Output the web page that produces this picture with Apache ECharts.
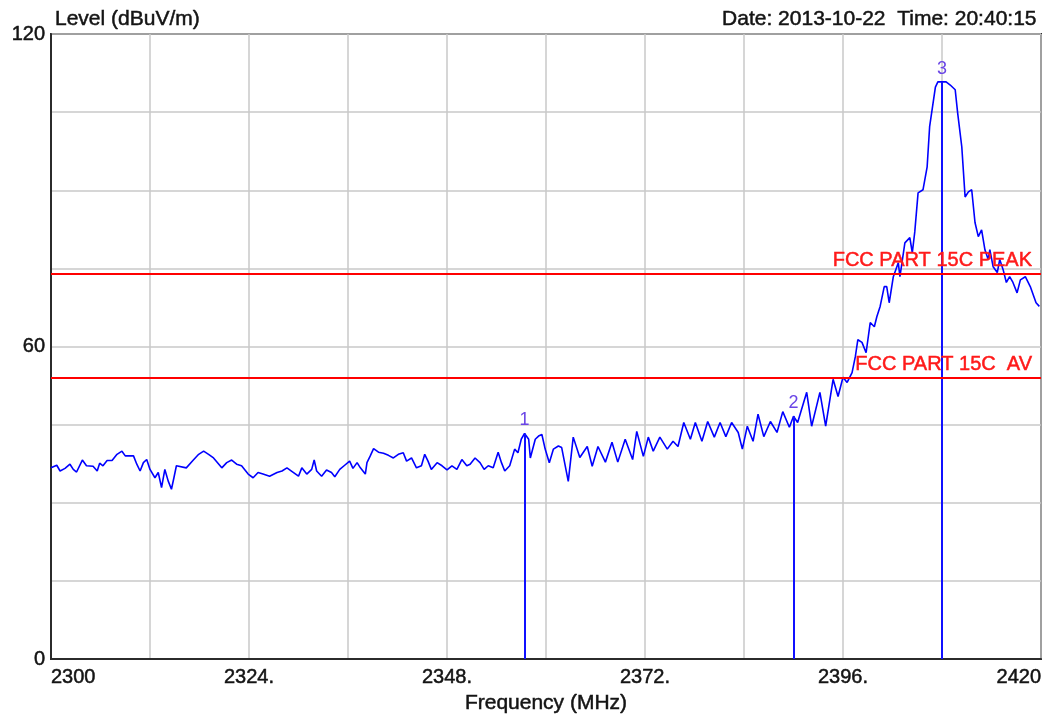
<!DOCTYPE html>
<html>
<head>
<meta charset="utf-8">
<title>Level (dBuV/m)</title>
<script src="https://cdn.jsdelivr.net/npm/echarts@6/dist/echarts.min.js"></script>
<style>
  html, body { margin: 0; padding: 0; background: #ffffff; }
  #chart { width: 1064px; height: 715px; }
</style>
</head>
<body>
<div id="chart"></div>
<script>
// Scan trace: frequency (MHz) and measured level (dBuV/m)
var freqMHz = [
  2300.0, 2300.7, 2301.1, 2301.7, 2302.3, 2302.7, 2303.1, 2303.8, 2304.3, 2305.1,
  2305.6, 2305.9, 2306.3, 2306.8, 2307.4, 2308.0, 2308.6, 2309.0, 2310.0, 2310.4,
  2310.8, 2311.2, 2311.6, 2312.0, 2312.6, 2313.0, 2313.4, 2313.8, 2314.2, 2314.6,
  2314.9, 2315.2, 2316.4, 2317.2, 2317.9, 2318.5, 2319.1, 2319.7, 2320.7, 2321.3,
  2321.9, 2322.5, 2323.1, 2323.9, 2324.5, 2325.1, 2325.7, 2326.5, 2327.4, 2328.0,
  2328.6, 2329.4, 2330.0, 2330.4, 2331.0, 2331.6, 2331.9, 2332.2, 2332.8, 2333.4,
  2334.0, 2334.4, 2335.0, 2335.6, 2336.2, 2336.6, 2337.1, 2337.5, 2338.1, 2338.3,
  2338.7, 2339.1, 2339.7, 2340.3, 2340.9, 2341.5, 2342.1, 2342.7, 2343.1, 2343.7,
  2344.3, 2344.9, 2345.3, 2345.7, 2346.1, 2346.8, 2347.4, 2348.0, 2348.6, 2349.2,
  2349.8, 2350.4, 2350.8, 2351.4, 2352.0, 2352.5, 2353.0, 2353.6, 2354.2, 2354.6,
  2355.0, 2355.6, 2356.2, 2356.6, 2357.0, 2357.4, 2357.9, 2358.1, 2358.7, 2359.1,
  2359.5, 2359.9, 2360.4, 2360.9, 2361.5, 2361.9, 2362.7, 2363.3, 2364.1, 2365.0,
  2365.6, 2366.3, 2367.2, 2368.0, 2368.7, 2369.6, 2370.5, 2371.0, 2371.8, 2372.4,
  2373.0, 2373.8, 2374.7, 2375.4, 2376.0, 2376.7, 2377.5, 2378.1, 2378.9, 2379.6,
  2380.4, 2381.1, 2381.8, 2382.5, 2383.3, 2383.8, 2384.4, 2385.1, 2385.7, 2386.4,
  2387.2, 2388.0, 2388.7, 2389.5, 2390.0, 2390.5, 2391.6, 2392.2, 2393.2, 2393.9,
  2394.8, 2395.4, 2396.0, 2396.5, 2397.1, 2397.5, 2397.8, 2398.3, 2398.8, 2399.3,
  2399.8, 2400.1, 2400.5, 2401.0, 2401.3, 2401.6, 2402.1, 2402.7, 2402.9, 2403.5,
  2404.1, 2404.4, 2404.7, 2405.1, 2405.7, 2406.2, 2406.5, 2407.2, 2407.5, 2408.0,
  2408.5, 2409.0, 2409.6, 2409.9, 2410.4, 2410.8, 2411.2, 2411.6, 2412.0, 2412.4,
  2412.8, 2413.2, 2413.6, 2413.8, 2414.2, 2414.7, 2415.0, 2415.4, 2415.8, 2416.2,
  2416.6, 2417.1, 2417.5, 2418.1, 2418.7, 2419.4, 2419.8
];
var levelDb = [
  36.7, 37.2, 36.1, 36.6, 37.4, 36.4, 35.9, 38.2, 37.1, 37.0,
  36.1, 37.6, 37.1, 38.1, 38.1, 39.3, 39.9, 39.0, 39.0, 37.4,
  36.1, 37.7, 38.3, 36.4, 34.8, 35.8, 32.9, 36.4, 34.2, 32.6,
  34.8, 37.1, 36.7, 38.1, 39.3, 39.9, 39.3, 38.6, 36.7, 37.7,
  38.2, 37.4, 37.1, 35.5, 34.8, 35.8, 35.5, 35.1, 35.8, 36.1,
  36.7, 35.8, 35.1, 36.7, 35.5, 36.4, 38.2, 36.1, 35.1, 36.3,
  35.8, 35.0, 36.4, 37.2, 38.0, 36.6, 37.7, 36.7, 35.5, 37.7,
  39.0, 40.4, 39.7, 39.5, 39.1, 38.6, 39.3, 39.6, 38.0, 38.6,
  36.7, 37.1, 39.3, 38.0, 36.4, 37.7, 37.1, 36.3, 37.1, 36.4,
  38.3, 37.1, 37.4, 38.6, 37.7, 36.4, 37.1, 36.7, 39.7, 37.7,
  36.1, 37.1, 40.3, 39.6, 42.2, 43.3, 42.2, 38.6, 42.2, 42.8,
  43.1, 40.3, 37.7, 40.3, 40.9, 40.6, 34.1, 42.6, 38.7, 40.8,
  37.0, 40.8, 37.8, 41.6, 37.8, 42.2, 38.3, 43.7, 38.9, 42.6,
  39.9, 42.6, 40.3, 41.8, 40.8, 45.4, 42.2, 45.4, 41.8, 45.6,
  42.6, 45.4, 42.7, 45.4, 43.5, 40.3, 44.7, 41.8, 47.0, 42.7,
  45.6, 43.5, 47.5, 44.5, 46.6, 45.4, 51.2, 44.7, 51.2, 44.7,
  53.7, 50.4, 54.1, 53.1, 55.0, 58.1, 61.3, 60.8, 58.8, 64.6,
  63.8, 65.7, 67.7, 71.5, 71.5, 68.4, 73.4, 76.1, 73.4, 79.9,
  80.9, 78.0, 82.0, 89.5, 90.1, 94.5, 102.2, 109.8, 110.8, 110.8,
  110.8, 110.2, 109.3, 104.8, 98.3, 88.7, 89.7, 90.1, 83.8, 81.1,
  82.4, 78.6, 76.7, 78.6, 75.3, 74.2, 76.7, 74.8, 72.3, 73.4,
  72.3, 70.3, 72.8, 73.4, 71.5, 68.4, 67.7
];

// Numbered markers
var markerNames = ['1', '2', '3'];
var markerFreq = [2357.4, 2390.0, 2408.0];
var markerLevel = [43.3, 46.6, 110.8];

// Limit lines
var limitNames = ['FCC PART 15C PEAK', 'FCC PART 15C  AV'];
var limitLevel = [74, 54];

// Axis tick labels
var xTickValues = [2300, 2324, 2348, 2372, 2396, 2420];
var xTickText = ['2300', '2324.', '2348.', '2372.', '2396.', '2420'];
var yTickValues = [0, 60, 120];
var yTickText = ['0', '60', '120'];

var FONT = '"Liberation Sans", Arial, sans-serif';
var TEXT = '#141414';

// slightly heavier text strokes
function heavy(color, size) {
  return {
    fontFamily: FONT, fontSize: size, fontWeight: 'normal', color: color,
    textBorderColor: color, textBorderWidth: 0.5
  };
}

var chart = echarts.init(document.getElementById('chart'), null, { renderer: 'canvas' });

var trace = freqMHz.map(function (f, i) { return [f, levelDb[i]]; });

var limitLines = limitLevel.map(function (v, i) {
  return { name: limitNames[i], yAxis: v };
});

var markerLines = markerFreq.map(function (f, i) {
  return [
    { name: markerNames[i], coord: [f, 0] },
    { coord: [f, markerLevel[i]] }
  ];
});

var xLabel = heavy(TEXT, 20);
xLabel.margin = 8;
xLabel.alignMinLabel = 'left';
xLabel.alignMaxLabel = 'right';
xLabel.showMinLabel = true;
xLabel.showMaxLabel = true;
xLabel.formatter = function (v) {
  var k = xTickValues.indexOf(Math.round(v));
  return k >= 0 ? xTickText[k] : '';
};

var yLabel = heavy(TEXT, 20);
yLabel.margin = 6;
yLabel.showMinLabel = true;
yLabel.showMaxLabel = true;
yLabel.formatter = function (v) {
  var k = yTickValues.indexOf(Math.round(v));
  return k >= 0 ? yTickText[k] : '';
};

var limitLabel = heavy('#ff1a1a', 20);
limitLabel.show = true;
limitLabel.position = 'insideEndTop';
limitLabel.distance = 3;
limitLabel.padding = [0, 6, 0, 0];
limitLabel.formatter = function (p) { return p.name; };

chart.setOption({
  animation: false,
  backgroundColor: '#ffffff',
  title: [
    { text: 'Level (dBuV/m)', left: 50, top: 4, textStyle: heavy(TEXT, 21) },
    { text: 'Date: 2013-10-22  Time: 20:40:15', right: 22, top: 4, textStyle: heavy(TEXT, 21) }
  ],
  grid: {
    left: 51, right: 23, top: 34, bottom: 56,
    outerBoundsMode: 'none',
    containLabel: false,
    show: true, borderColor: '#2b2b2b', borderWidth: 2, backgroundColor: '#ffffff'
  },
  xAxis: {
    type: 'value',
    min: 2300, max: 2420, interval: 12,
    name: 'Frequency (MHz)',
    nameLocation: 'middle',
    nameGap: 31,
    nameTextStyle: heavy(TEXT, 21),
    axisLine: { show: true, lineStyle: { color: '#2b2b2b', width: 2 } },
    axisTick: { show: false },
    splitLine: { show: true, lineStyle: { color: '#c8c8c8', width: 1.5 } },
    axisLabel: xLabel
  },
  yAxis: {
    type: 'value',
    min: 0, max: 120, interval: 15,
    axisLine: { show: true, lineStyle: { color: '#2b2b2b', width: 2 } },
    axisTick: { show: false },
    splitLine: { show: true, lineStyle: { color: '#c8c8c8', width: 1.5 } },
    axisLabel: yLabel
  },
  series: [
    {
      name: 'markers',
      type: 'line',
      data: [],
      z: 3,
      markLine: {
        silent: true,
        symbol: 'none',
        lineStyle: { color: '#1010ff', width: 2, type: 'solid' },
        label: {
          show: true,
          position: 'end',
          distance: 4,
          fontFamily: FONT, fontSize: 18,
          color: '#6a45e6',
          formatter: function (p) { return p.name; }
        },
        data: markerLines
      }
    },
    {
      name: 'trace',
      type: 'line',
      data: trace,
      showSymbol: false,
      z: 4,
      lineStyle: { color: '#0000ff', width: 1.6 },
      markLine: {
        silent: true,
        symbol: 'none',
        lineStyle: { color: '#ff0000', width: 2, type: 'solid' },
        label: limitLabel,
        data: limitLines
      }
    }
  ]
});
</script>
</body>
</html>
